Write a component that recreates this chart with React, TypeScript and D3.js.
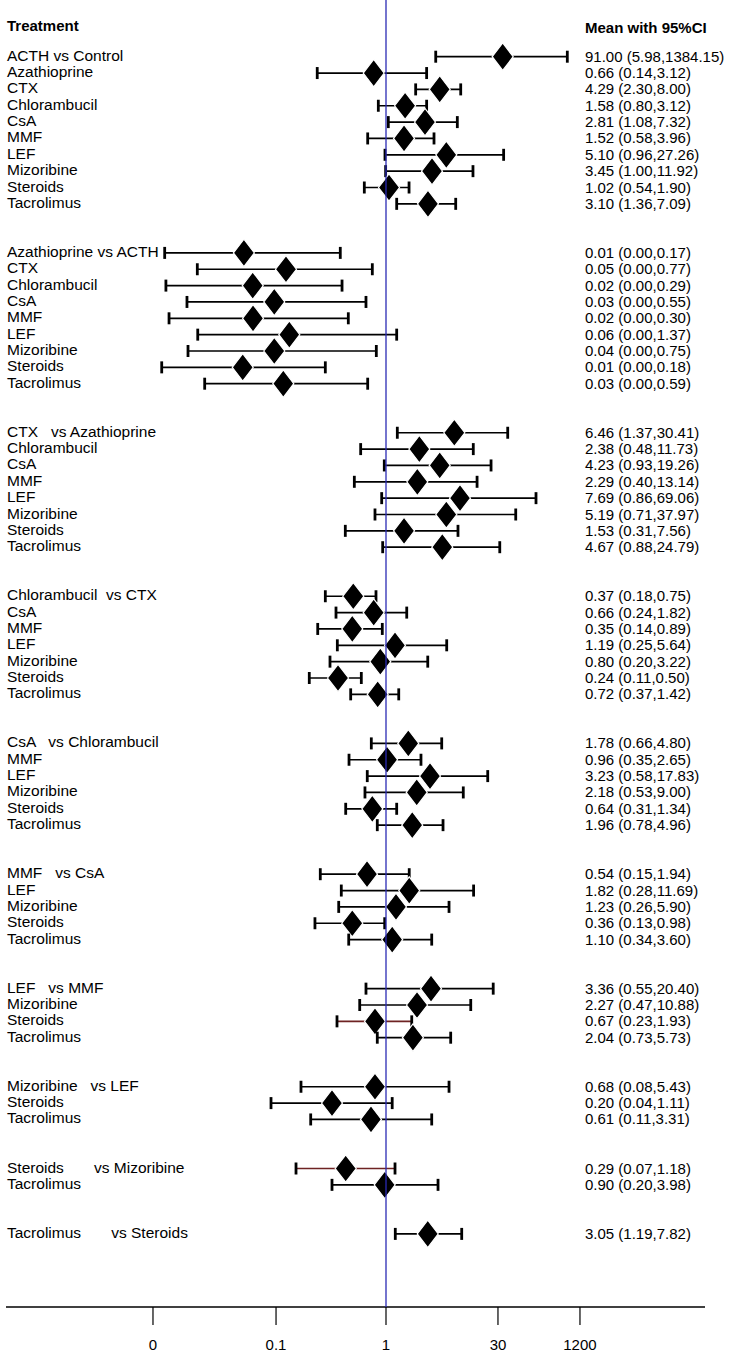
import React from "react";
import * as d3 from "d3";

// ---------- data ----------
const groupSizes = [10, 9, 8, 7, 6, 5, 4, 3, 2, 1];

const rowLabels = [
  "ACTH vs Control", "Azathioprine", "CTX", "Chlorambucil", "CsA", "MMF", "LEF", "Mizoribine", "Steroids", "Tacrolimus",
  "Azathioprine vs ACTH", "CTX", "Chlorambucil", "CsA", "MMF", "LEF", "Mizoribine", "Steroids", "Tacrolimus",
  "CTX   vs Azathioprine", "Chlorambucil", "CsA", "MMF", "LEF", "Mizoribine", "Steroids", "Tacrolimus",
  "Chlorambucil  vs CTX", "CsA", "MMF", "LEF", "Mizoribine", "Steroids", "Tacrolimus",
  "CsA   vs Chlorambucil", "MMF", "LEF", "Mizoribine", "Steroids", "Tacrolimus",
  "MMF   vs CsA", "LEF", "Mizoribine", "Steroids", "Tacrolimus",
  "LEF   vs MMF", "Mizoribine", "Steroids", "Tacrolimus",
  "Mizoribine   vs LEF", "Steroids", "Tacrolimus",
  "Steroids       vs Mizoribine", "Tacrolimus",
  "Tacrolimus       vs Steroids",
];

// plotted point estimates (in axis units)
const estimates = [
  26.5, 0.708, 4.52, 1.71, 2.99, 1.66, 5.44, 3.64, 1.088, 3.25,
  0.0185, 0.0603, 0.0237, 0.0434, 0.0239, 0.0662, 0.0434, 0.0179, 0.0559,
  6.81, 2.55, 4.52, 2.41, 7.99, 5.44, 1.66, 4.86,
  0.399, 0.708, 0.388, 1.288, 0.852, 0.26, 0.792,
  1.87, 1.03, 3.44, 2.37, 0.681, 2.09,
  0.587, 1.92, 1.324, 0.388, 1.19,
  3.54, 2.39, 0.734, 2.13,
  0.734, 0.2195, 0.656,
  0.3225, 0.964,
  3.23,
];
const lowers = [
  4.04, 0.145, 2.30, 0.806, 1.067, 0.598, 0.972, 0.99, 0.544, 1.35,
  0.0020, 0.0050, 0.00207, 0.00374, 0.00226, 0.00506, 0.00385, 0.00184, 0.00615,
  1.374, 0.491, 0.953, 0.411, 0.886, 0.734, 0.319, 0.911,
  0.182, 0.2456, 0.147, 0.255, 0.2075, 0.116, 0.371,
  0.662, 0.354, 0.591, 0.554, 0.3225, 0.783,
  0.158, 0.285, 0.265, 0.136, 0.351,
  0.570, 0.478, 0.2526, 0.783,
  0.0919, 0.0396, 0.1207,
  0.0799, 0.2195,
  1.298,
];
const uppers = [
  162.6, 3.13, 8.15, 3.13, 7.41, 3.85, 27.2, 11.5, 1.91, 7.08,
  0.277, 0.681, 0.291, 0.570, 0.347, 1.35, 0.762, 0.182, 0.598,
  30.5, 11.6, 19.1, 12.9, 67.5, 38.2, 7.55, 24.4,
  0.755, 1.79, 0.901, 5.50, 3.23, 0.50, 1.43,
  4.78, 2.67, 17.4, 8.76, 1.35, 4.96,
  1.92, 11.7, 5.87, 0.964, 3.61,
  20.3, 10.8, 2.06, 6.15,
  5.87, 1.19, 3.61,
  1.288, 4.31,
  8.38,
];

const ciLabels = [
  "91.00 (5.98,1384.15)", "0.66 (0.14,3.12)", "4.29 (2.30,8.00)", "1.58 (0.80,3.12)", "2.81 (1.08,7.32)",
  "1.52 (0.58,3.96)", "5.10 (0.96,27.26)", "3.45 (1.00,11.92)", "1.02 (0.54,1.90)", "3.10 (1.36,7.09)",
  "0.01 (0.00,0.17)", "0.05 (0.00,0.77)", "0.02 (0.00,0.29)", "0.03 (0.00,0.55)", "0.02 (0.00,0.30)",
  "0.06 (0.00,1.37)", "0.04 (0.00,0.75)", "0.01 (0.00,0.18)", "0.03 (0.00,0.59)",
  "6.46 (1.37,30.41)", "2.38 (0.48,11.73)", "4.23 (0.93,19.26)", "2.29 (0.40,13.14)", "7.69 (0.86,69.06)",
  "5.19 (0.71,37.97)", "1.53 (0.31,7.56)", "4.67 (0.88,24.79)",
  "0.37 (0.18,0.75)", "0.66 (0.24,1.82)", "0.35 (0.14,0.89)", "1.19 (0.25,5.64)", "0.80 (0.20,3.22)",
  "0.24 (0.11,0.50)", "0.72 (0.37,1.42)",
  "1.78 (0.66,4.80)", "0.96 (0.35,2.65)", "3.23 (0.58,17.83)", "2.18 (0.53,9.00)", "0.64 (0.31,1.34)",
  "1.96 (0.78,4.96)",
  "0.54 (0.15,1.94)", "1.82 (0.28,11.69)", "1.23 (0.26,5.90)", "0.36 (0.13,0.98)", "1.10 (0.34,3.60)",
  "3.36 (0.55,20.40)", "2.27 (0.47,10.88)", "0.67 (0.23,1.93)", "2.04 (0.73,5.73)",
  "0.68 (0.08,5.43)", "0.20 (0.04,1.11)", "0.61 (0.11,3.31)",
  "0.29 (0.07,1.18)", "0.90 (0.20,3.98)",
  "3.05 (1.19,7.82)",
];

const tickLabels = ["0", "0.1", "1", "30", "1200"];
const tickValues = [0.00144, 0.0456, 1, 23.2, 232];

// rows whose CI line is drawn in dark red
const redLineRows = [47, 52];

// ---------- layout ----------
const W = 732;
const H = 1367;
const FONT = "'Liberation Sans', Arial, Helvetica, sans-serif";
const firstRowY = 56.7;
const pitch = 16.35;
const gapRows = 2;
const axisY = 1307;

export default function App() {
  const x = d3.scaleLog().domain([1e-3, 1e3]).range([140, 632]);

  // slot index for each row (2 blank slots between groups)
  const slots: number[] = [];
  let s = 0;
  groupSizes.forEach((n) => {
    for (let i = 0; i < n; i++) slots.push(s + i);
    s += n + gapRows;
  });
  const yOf = (i: number) => firstRowY + slots[i] * pitch;

  const diamond = d3
    .line<[number, number]>()
    .x((d) => d[0])
    .y((d) => d[1]);
  const dw = 10.5;
  const dh = 13.7;

  return (
    <svg
      width={W}
      height={H}
      style={{ position: "absolute", left: 0, top: 0, background: "#fff" }}
      fontFamily={FONT}
    >
      <rect x={0} y={0} width={W} height={H} fill="#fff" />
      <text x={7} y={30.5} fontSize={15} fontWeight="bold" fill="#000">
        Treatment
      </text>
      <text x={585} y={32.5} fontSize={15} fontWeight="bold" fill="#000">
        Mean with 95%CI
      </text>

      {rowLabels.map((lab, i) => (
        <text
          key={"l" + i}
          x={7}
          y={yOf(i) + 4}
          fontSize={15.5}
          fill="#000"
          style={{ whiteSpace: "pre" }}
          xmlSpace="preserve"
        >
          {lab}
        </text>
      ))}

      {ciLabels.map((lab, i) => (
        <text key={"c" + i} x={585} y={yOf(i) + 5} fontSize={15} fill="#000">
          {lab}
        </text>
      ))}

      {estimates.map((est, i) => {
        const y = yOf(i);
        const x0 = x(lowers[i]);
        const x1 = x(uppers[i]);
        const xc = x(est);
        const lineColor = redLineRows.includes(i) ? "#6e2323" : "#000";
        return (
          <g key={"r" + i}>
            <line x1={x0} x2={x1} y1={y} y2={y} stroke={lineColor} strokeWidth={1.7} />
            <line x1={x0} x2={x0} y1={y - 6} y2={y + 6} stroke="#000" strokeWidth={2.8} />
            <line x1={x1} x2={x1} y1={y - 6} y2={y + 6} stroke="#000" strokeWidth={2.8} />
            <path
              d={
                diamond([
                  [xc - dw, y],
                  [xc, y - dh],
                  [xc + dw, y],
                  [xc, y + dh],
                ]) + "Z"
              }
              fill="#000"
              stroke="#fff"
              strokeWidth={1.2}
            />
          </g>
        );
      })}

      {/* axis */}
      <line x1={6} x2={705} y1={axisY} y2={axisY} stroke="#000" strokeWidth={1.5} />
      {tickValues.map((v, i) => (
        <g key={"t" + i}>
          <line x1={x(v)} x2={x(v)} y1={axisY} y2={axisY + 18} stroke="#000" strokeWidth={1.2} />
          <text x={x(v)} y={1350} fontSize={15} textAnchor="middle" fill="#000">
            {tickLabels[i]}
          </text>
        </g>
      ))}

      {/* reference line at 1 */}
      <line x1={x(1)} x2={x(1)} y1={0} y2={axisY} stroke="#2a2ab4" strokeWidth={1.3} />
    </svg>
  );
}
